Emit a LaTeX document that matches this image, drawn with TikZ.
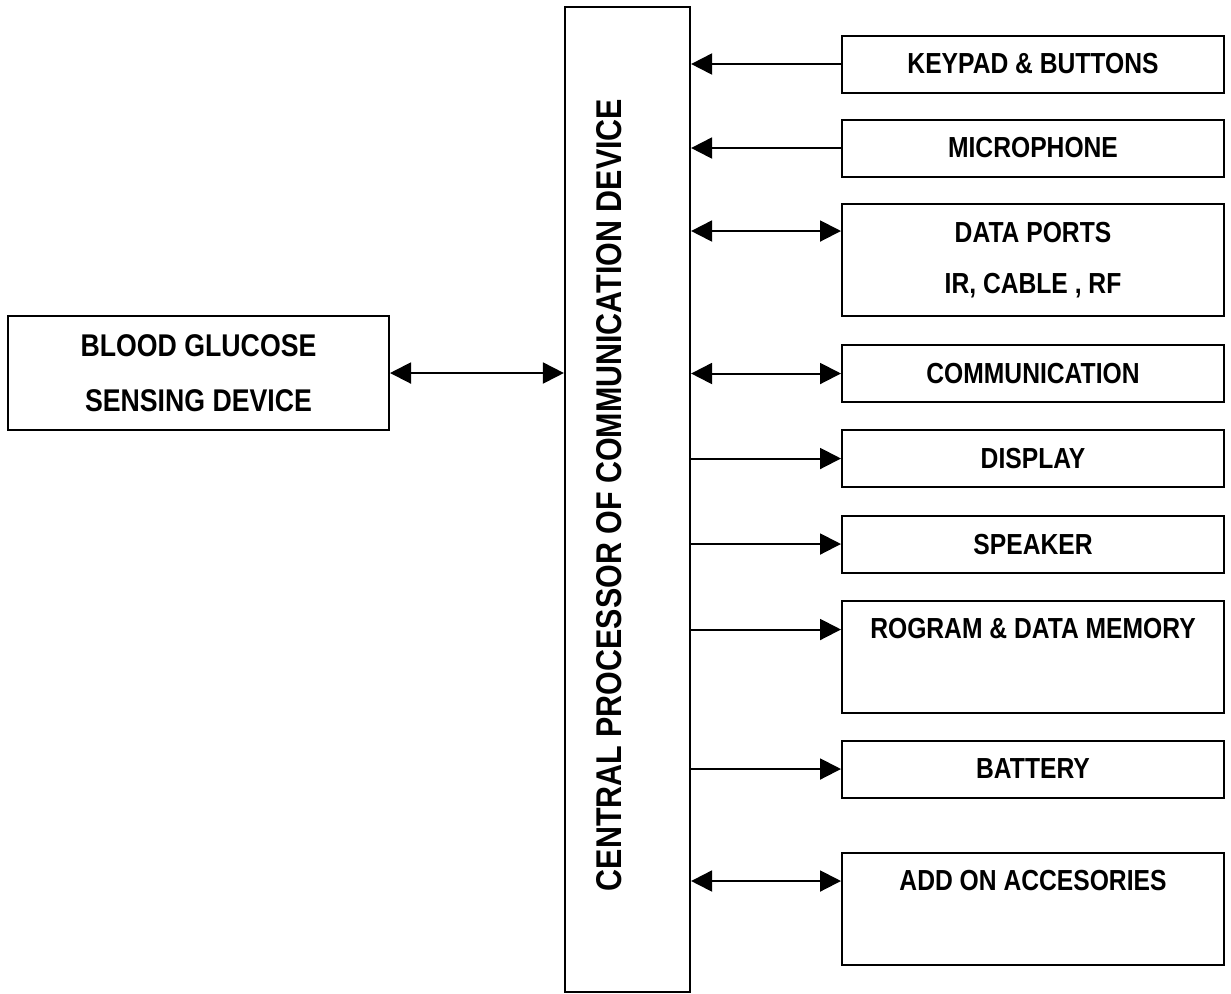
\documentclass[tikz,border=0pt]{standalone}
\usepackage{fontspec}
\newfontfamily\diagfont{Liberation Sans}[FakeStretch=0.85]
\usetikzlibrary{arrows.meta,positioning,calc}
\tikzset{
    % Base box style
    basenode/.style={
        draw=black,
        fill=white,
        line width=1pt,
        inner sep=0pt,
        align=center,
        font=\diagfont\bfseries\fontsize{14.5}{25.5}\selectfont
    },
    % Peripheral box, one line
    smallbox/.style={
        basenode,
        minimum width=191pt,
        minimum height=28.5pt
    },
    % Peripheral box, two lines
    tallbox/.style={
        basenode,
        minimum width=191pt,
        minimum height=56pt
    },
    % Sensor box
    sensornode/.style={
        basenode,
        minimum width=190.5pt,
        minimum height=57pt,
        font=\diagfont\bfseries\fontsize{15.7}{27.5}\selectfont
    },
    % Central processor
    cpunode/.style={
        basenode,
        line width=1.1pt,
        minimum width=62.5pt,
        minimum height=492.5pt
    },
    cpulabel/.style={
        rotate=90,
        inner sep=0pt,
        font=\diagfont\bfseries\fontsize{17.9}{20}\selectfont
    },
    % Arrow styles
    myarrow/.style={
        -{Triangle[length=10.5pt,width=10.5pt]},
        line width=1pt,
        draw=black
    },
    biarrow/.style={
        {Triangle[length=10.5pt,width=10.5pt]}-{Triangle[length=10.5pt,width=10.5pt]},
        line width=1pt,
        draw=black
    }
}
\begin{document}
\begin{tikzpicture}[x=0.5pt, y=-0.5pt]
        \useasboundingbox (0,0) rectangle (1231,993);

        % Central processor
        \node[cpunode] (cpu) at (627.5,499.5) {};
        \node[cpulabel] (cputext) at (609,495) {CENTRAL PROCESSOR OF COMMUNICATION DEVICE};

        % Sensor
        \node[sensornode] (bgs) at (198.5,373) {BLOOD GLUCOSE\\SENSING DEVICE};

        % Peripherals
        \node[smallbox] (keypad) at (1033,64) {KEYPAD \& BUTTONS};
        \node[smallbox] (mic) at (1033,148) {MICROPHONE};
        \node[tallbox] (ports) at (1033,260) {DATA PORTS\\IR, CABLE , RF};
        \node[smallbox] (comm) at (1033,373.5) {COMMUNICATION};
        \node[smallbox] (disp) at (1033,458.5) {DISPLAY};
        \node[smallbox] (spk) at (1033,544) {SPEAKER};
        \node[tallbox] (mem) at (1033,656.5) {ROGRAM \& DATA MEMORY\\[3pt]\mbox{}};
        \node[smallbox] (bat) at (1033,769) {BATTERY};
        \node[tallbox] (addon) at (1033,909) {ADD ON ACCESORIES\\[3pt]\mbox{}};

        % Sensor link
        \draw[biarrow] (bgs.east) -- (bgs.east -| cpu.west);

        % Inputs to processor
        \draw[myarrow] (keypad.west) -- (keypad.west -| cpu.east);
        \draw[myarrow] (mic.west) -- (mic.west -| cpu.east);

        % Two way links
        \draw[biarrow] ([yshift=-14pt]ports.north west -| cpu.east) -- ([yshift=-14pt]ports.north west);
        \draw[biarrow] (comm.west -| cpu.east) -- (comm.west);
        \draw[biarrow] ([yshift=-14.5pt]addon.north west -| cpu.east) -- ([yshift=-14.5pt]addon.north west);

        % Outputs from processor
        \draw[myarrow] (disp.west -| cpu.east) -- (disp.west);
        \draw[myarrow] (spk.west -| cpu.east) -- (spk.west);
        \draw[myarrow] ([yshift=-15pt]mem.north west -| cpu.east) -- ([yshift=-15pt]mem.north west);
        \draw[myarrow] (bat.west -| cpu.east) -- (bat.west);
    \end{tikzpicture}
\end{document}
